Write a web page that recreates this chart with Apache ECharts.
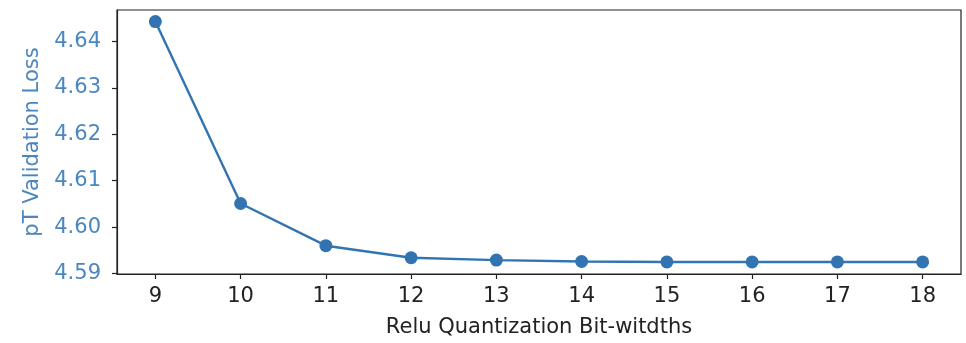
<!DOCTYPE html>
<html>
<head>
<meta charset="utf-8">
<script src="https://cdn.jsdelivr.net/npm/echarts@6/dist/echarts.min.js"></script>
<style>
  html, body { margin: 0; padding: 0; background: #fff; }
  #chart { width: 966px; height: 343px; }
</style>
</head>
<body>
<div id="chart"></div>
<script>
// Bit-width sweep and the matching validation loss
const bitWidths = [9, 10, 11, 12, 13, 14, 15, 16, 17, 18];
const lossValues = [4.6443, 4.6051, 4.5960, 4.5934, 4.5929, 4.5926, 4.5925, 4.5925, 4.5925, 4.5925];
const yTicks = [4.59, 4.60, 4.61, 4.62, 4.63, 4.64];

const lineColor = '#3274b2';
const labelBlue = '#4a86c0';
const font = 'DejaVu Sans';
const fontSize = 21;

const chart = echarts.init(document.getElementById('chart'), null, { renderer: 'canvas' });

chart.setOption({
  animation: false,
  backgroundColor: '#ffffff',
  grid: { left: 117, right: 5, top: 10, bottom: 67, show: true, borderColor: '#222', borderWidth: 1.2, containLabel: false },
  xAxis: {
    type: 'value',
    min: 8.55,
    max: 18.45,
    name: 'Relu Quantization Bit-witdths',
    nameLocation: 'middle',
    nameGap: 43,
    nameTextStyle: { fontFamily: font, fontSize: fontSize, color: '#222' },
    axisLine: { show: true, onZero: false, lineStyle: { color: '#222', width: 1.2 } },
    axisTick: { show: true, inside: false, length: 5, customValues: bitWidths, lineStyle: { color: '#222', width: 1.2 } },
    axisLabel: { customValues: bitWidths, margin: 12, fontFamily: font, fontSize: fontSize, color: '#222',
                 formatter: v => String(v) },
    splitLine: { show: false }
  },
  yAxis: {
    type: 'value',
    min: 4.5899,
    max: 4.6468,
    name: 'pT Validation Loss',
    nameLocation: 'middle',
    nameGap: 74,
    nameTextStyle: { fontFamily: font, fontSize: fontSize, color: labelBlue },
    axisLine: { show: true, onZero: false, lineStyle: { color: '#222', width: 1.2 } },
    axisTick: { show: true, inside: false, length: 5, customValues: yTicks, lineStyle: { color: '#222', width: 1.2 } },
    axisLabel: { customValues: yTicks, margin: 16, fontFamily: font, fontSize: fontSize, color: labelBlue,
                 formatter: v => v.toFixed(2) },
    splitLine: { show: false }
  },
  series: [{
    type: 'line',
    data: bitWidths.map((b, i) => [b, lossValues[i]]),
    symbol: 'circle',
    symbolSize: 13,
    showSymbol: true,
    lineStyle: { color: lineColor, width: 2.4 },
    itemStyle: { color: lineColor }
  }]
});
</script>
</body>
</html>
